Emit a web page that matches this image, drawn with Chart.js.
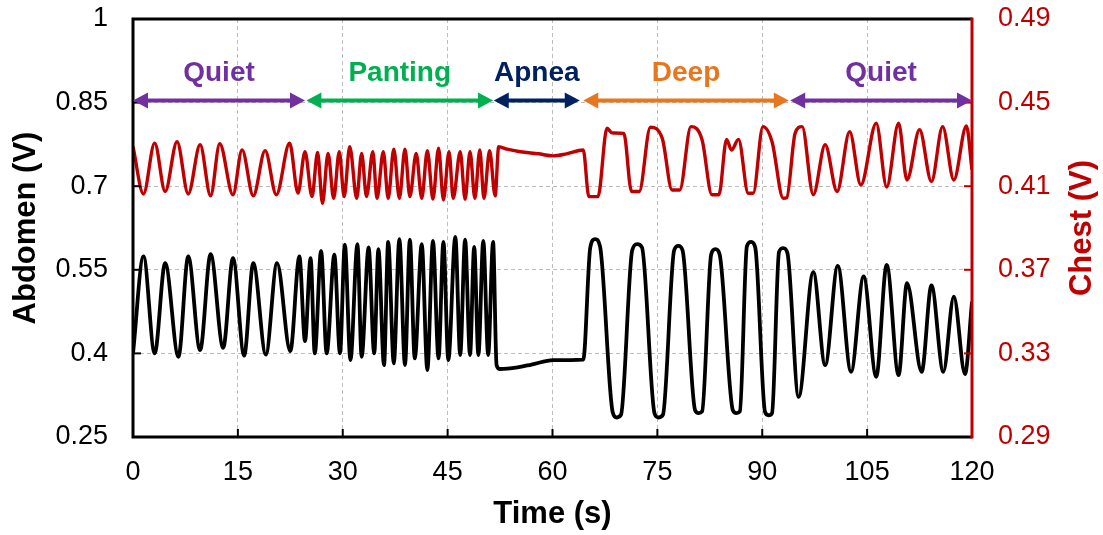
<!DOCTYPE html>
<html>
<head>
<meta charset="utf-8">
<script src="https://cdn.jsdelivr.net/npm/chart.js@4.4.1/dist/chart.umd.min.js"></script>
<style>
  html, body { margin: 0; padding: 0; background: #fff; }
  #wrap { width: 1103px; height: 535px; }
</style>
</head>
<body>
<div id="wrap"><canvas id="c" width="1103" height="535"></canvas></div>
<script>
// ticks
const xTicks = [0, 15, 30, 45, 60, 75, 90, 105, 120];
const abdomenTicks = [0.25, 0.4, 0.55, 0.7, 0.85, 1];
const chestTicks = [0.29, 0.33, 0.37, 0.41, 0.45, 0.49];

// abdomen belt (black, left axis) - peaks / troughs
const abdomenTime = [
  0, 1.5, 3.1, 4.6, 6.5, 7.9, 9.6, 11.1, 12.9, 14.3, 15.9, 17.2, 19.0, 20.6, 22.5, 23.8,
  24.6, 25.4, 26.0, 26.9, 27.7, 28.8, 29.6, 30.3, 31.1, 32.1, 32.7, 33.7, 34.5, 35.1, 35.9,
  36.5, 37.3, 38.1, 38.9, 39.6, 40.3, 41.3, 42.1, 42.9, 43.7, 44.4, 45.1, 46.1, 46.8, 47.5,
  48.2, 48.8, 49.4, 50.1, 50.8, 51.5, 52.0, 52.5, 55.0, 57.0, 60.1, 64.4,
  65.4, 66.1, 66.8, 68.6, 69.2, 69.8, 71.4, 72.1, 72.8, 74.6, 75.2, 75.8,
  77.4, 78.0, 78.6, 80.4, 80.9, 81.4, 82.7, 83.3, 83.9, 85.8, 86.3, 86.8,
  87.8, 88.4, 89.0, 90.4, 90.9, 91.4, 92.4, 93.0, 93.6, 95.2,
  97.3, 99.0, 100.8, 102.7, 104.5, 106.3, 107.8, 109.5, 110.7, 112.8, 114.2, 115.9, 117.4, 119.0, 120
];
const abdomenVolt = [
  0.400, 0.574, 0.400, 0.562, 0.394, 0.574, 0.406, 0.578, 0.410, 0.571, 0.396, 0.562, 0.398, 0.562, 0.404, 0.574,
  0.422, 0.571, 0.400, 0.584, 0.400, 0.577, 0.400, 0.595, 0.388, 0.596, 0.394, 0.590, 0.400, 0.587, 0.379,
  0.600, 0.382, 0.605, 0.379, 0.604, 0.391, 0.596, 0.370, 0.602, 0.391, 0.600, 0.388, 0.609, 0.397, 0.604,
  0.397, 0.591, 0.397, 0.602, 0.397, 0.600, 0.379, 0.372, 0.375, 0.380, 0.388, 0.389,
  0.590, 0.605, 0.592, 0.295, 0.285, 0.290, 0.585, 0.596, 0.590, 0.292, 0.285, 0.290,
  0.585, 0.593, 0.585, 0.298, 0.293, 0.296, 0.578, 0.587, 0.578, 0.298, 0.293, 0.296,
  0.592, 0.600, 0.590, 0.295, 0.289, 0.293, 0.582, 0.589, 0.580, 0.322,
  0.546, 0.379, 0.557, 0.367, 0.538, 0.358, 0.559, 0.361, 0.526, 0.367, 0.522, 0.367, 0.502, 0.363, 0.493
];

// chest belt (red, right axis)
const chestTime = [
  0, 1.5, 3.1, 4.6, 6.3, 7.9, 9.6, 11.1, 12.4, 14.3, 15.6, 17.2, 18.9, 20.5, 22.4, 23.6,
  24.6, 25.6, 26.4, 27.1, 27.9, 28.7, 29.5, 30.2, 31.0, 32.0, 32.7, 33.4, 34.3, 34.9, 35.8,
  36.5, 37.3, 38.1, 38.9, 39.6, 40.5, 41.3, 42.1, 42.9, 43.7, 44.4, 45.2, 45.8, 46.8, 47.5,
  48.2, 48.9, 49.6, 50.2, 51.0, 51.8, 52.3, 53.5, 55.4, 58.0, 60.1, 62.0, 64.4,
  65.2, 66.5, 67.8, 68.5, 70.2, 71.3, 72.4, 74.0, 75.7, 77.1, 78.2, 79.8, 81.4, 82.8, 83.8,
  84.9, 85.6, 86.6, 88.0, 88.7, 90.1, 91.4, 93.0, 93.5, 94.7, 95.7,
  97.3, 99.0, 100.7, 102.5, 104.1, 106.3, 107.8, 109.5, 110.7, 112.5, 114.2, 115.8, 117.4, 119.2, 120
];
const chestVolt = [
  0.4289, 0.4063, 0.4306, 0.4075, 0.4313, 0.4063, 0.4298, 0.4054, 0.4303, 0.4059, 0.4274, 0.4054, 0.4270, 0.4059, 0.4306, 0.4067,
  0.4265, 0.4050, 0.4261, 0.4018, 0.4257, 0.4042, 0.4265, 0.4050, 0.4289, 0.4042, 0.4257, 0.4050, 0.4265, 0.4042, 0.4265,
  0.4042, 0.4277, 0.4042, 0.4277, 0.4050, 0.4257, 0.4042, 0.4270, 0.4038, 0.4282, 0.4034, 0.4265, 0.4042, 0.4265, 0.4038,
  0.4265, 0.4042, 0.4273, 0.4042, 0.4270, 0.4054, 0.4289, 0.4277, 0.4265, 0.4255, 0.4245, 0.4255, 0.4273,
  0.4050, 0.4050, 0.4377, 0.4355, 0.4353, 0.4075, 0.4075, 0.4382, 0.4329, 0.4082, 0.4082, 0.4385, 0.4321, 0.4059, 0.4059,
  0.4324, 0.4273, 0.4324, 0.4066, 0.4066, 0.4385, 0.4313, 0.4042, 0.4045, 0.4353, 0.4385,
  0.4059, 0.4298, 0.4075, 0.4361, 0.4106, 0.4401, 0.4096, 0.4401, 0.4130, 0.4370, 0.4122, 0.4385, 0.4130, 0.4388, 0.4178
];

// breathing phases (seconds)
const phaseNames = ["Quiet", "Panting", "Apnea", "Deep", "Quiet"];
const phaseStart = [0, 24.8, 51.6, 64.4, 94.0];
const phaseEnd = [24.6, 51.5, 63.9, 93.8, 120];
const phaseColors = ["#7030A0", "#00B050", "#002060", "#E8761E", "#7030A0"];

const RED = "#C00000";
Chart.defaults.font.family = '"Liberation Sans", Arial, sans-serif';

const toXY = (ts, vs) => ts.map((t, i) => ({ x: t, y: vs[i] }));

// frame, inward ticks, phase arrows, right title
const decor = {
  id: "decor",
  afterDatasetsDraw(chart) {
    const { ctx, chartArea: a, scales } = chart;
    const x = scales.x, y = scales.y, y2 = scales.y2;
    ctx.save();

    // tick marks pointing inside
    ctx.lineWidth = 2;
    ctx.strokeStyle = "#000";
    xTicks.forEach(v => {
      const px = x.getPixelForValue(v);
      ctx.beginPath(); ctx.moveTo(px, a.bottom); ctx.lineTo(px, a.bottom - 8); ctx.stroke();
    });
    abdomenTicks.forEach(v => {
      const py = y.getPixelForValue(v);
      ctx.beginPath(); ctx.moveTo(a.left, py); ctx.lineTo(a.left + 8, py); ctx.stroke();
    });
    ctx.strokeStyle = RED;
    chestTicks.forEach(v => {
      const py = y2.getPixelForValue(v);
      ctx.beginPath(); ctx.moveTo(a.right, py); ctx.lineTo(a.right - 8, py); ctx.stroke();
    });

    // frame
    ctx.lineWidth = 3;
    ctx.strokeStyle = "#000";
    ctx.beginPath();
    ctx.moveTo(a.right, a.top); ctx.lineTo(a.left, a.top);
    ctx.lineTo(a.left, a.bottom); ctx.lineTo(a.right, a.bottom);
    ctx.stroke();
    ctx.strokeStyle = RED;
    ctx.beginPath(); ctx.moveTo(a.right, a.top - 1.5); ctx.lineTo(a.right, a.bottom + 1.5); ctx.stroke();

    // phase arrows
    const ay = y.getPixelForValue(0.85) - 2;
    const head = 15, hw = 8;
    ctx.font = 'bold 28px "Liberation Sans", Arial, sans-serif';
    ctx.textAlign = "center";
    ctx.textBaseline = "alphabetic";
    phaseNames.forEach((name, i) => {
      const x1 = x.getPixelForValue(phaseStart[i]);
      const x2 = x.getPixelForValue(phaseEnd[i]);
      ctx.strokeStyle = ctx.fillStyle = phaseColors[i];
      ctx.lineWidth = 4;
      ctx.beginPath(); ctx.moveTo(x1 + head - 2, ay); ctx.lineTo(x2 - head + 2, ay); ctx.stroke();
      ctx.beginPath(); ctx.moveTo(x1, ay); ctx.lineTo(x1 + head, ay - hw); ctx.lineTo(x1 + head, ay + hw); ctx.closePath(); ctx.fill();
      ctx.beginPath(); ctx.moveTo(x2, ay); ctx.lineTo(x2 - head, ay - hw); ctx.lineTo(x2 - head, ay + hw); ctx.closePath(); ctx.fill();
      ctx.fillText(name, (x1 + x2) / 2, ay - 20);
    });

    // right axis title, reading bottom to top
    ctx.fillStyle = RED;
    ctx.font = 'bold 31px "Liberation Sans", Arial, sans-serif';
    ctx.translate(1082, (a.top + a.bottom) / 2);
    ctx.rotate(-Math.PI / 2);
    ctx.textBaseline = "middle";
    ctx.fillText("Chest (V)", 0, 0);
    ctx.restore();
  }
};

new Chart(document.getElementById("c"), {
  type: "line",
  data: {
    datasets: [
      { label: "Chest", data: toXY(chestTime, chestVolt), yAxisID: "y2",
        borderColor: RED, borderWidth: 3.4, pointRadius: 0, cubicInterpolationMode: "monotone" },
      { label: "Abdomen", data: toXY(abdomenTime, abdomenVolt), yAxisID: "y",
        borderColor: "#000", borderWidth: 3.8, pointRadius: 0, cubicInterpolationMode: "monotone" }
    ]
  },
  options: {
    responsive: false,
    devicePixelRatio: 1,
    animation: false,
    layout: { padding: { top: 19, left: 0, right: 0, bottom: 0 } },
    plugins: { legend: { display: false }, tooltip: { enabled: false } },
    scales: {
      x: {
        type: "linear", min: 0, max: 120,
        afterBuildTicks: s => { s.ticks = xTicks.map(v => ({ value: v })); },
        afterFit: s => { s.height = 98; s.paddingLeft = 0; s.paddingRight = 0; },
        ticks: { font: { size: 27 }, color: "#000", padding: 19, maxRotation: 0 },
        grid: { color: "#bdbdbd", lineWidth: 1, drawTicks: false },
        border: { display: false, dash: [4, 3] },
        title: { display: true, text: "Time (s)", color: "#000",
                 font: { size: 31, weight: "bold" }, padding: { top: 0, bottom: 2 } }
      },
      y: {
        type: "linear", position: "left", min: 0.25, max: 1,
        afterBuildTicks: s => { s.ticks = abdomenTicks.map(v => ({ value: v })); },
        afterFit: s => { s.width = 133; s.paddingTop = 0; s.paddingBottom = 0; },
        ticks: { font: { size: 27 }, color: "#000", padding: 25, callback: v => String(v) },
        grid: { color: "#bdbdbd", lineWidth: 1, drawTicks: false },
        border: { display: false, dash: [4, 3] },
        title: { display: true, text: "Abdomen (V)", color: "#000",
                 font: { size: 31, weight: "bold" }, padding: { top: 8, bottom: 0 } }
      },
      y2: {
        type: "linear", position: "right", min: 0.29, max: 0.49,
        afterBuildTicks: s => { s.ticks = chestTicks.map(v => ({ value: v })); },
        afterFit: s => { s.width = 131; s.paddingTop = 0; s.paddingBottom = 0; },
        ticks: { font: { size: 27 }, color: RED, padding: 26, callback: v => String(v) },
        grid: { display: false, drawTicks: false },
        border: { display: false }
      }
    }
  },
  plugins: [decor]
});
</script>
</body>
</html>
